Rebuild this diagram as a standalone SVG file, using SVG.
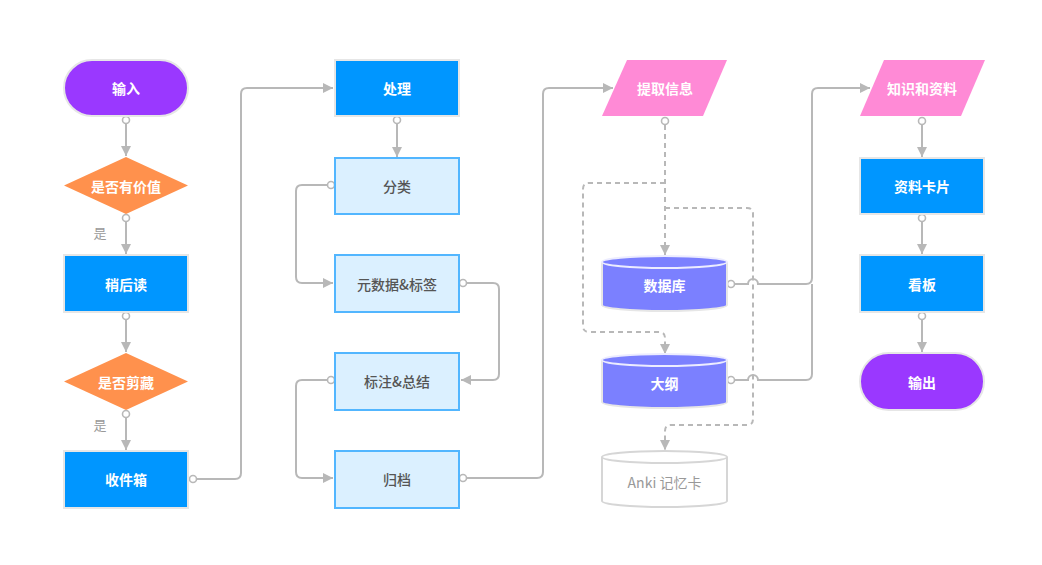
<svg xmlns="http://www.w3.org/2000/svg" width="1042" height="565" viewBox="0 0 1042 565">
<style>
text{font-family:"Noto Sans CJK SC","Liberation Sans",sans-serif;font-size:14px;text-anchor:middle;dominant-baseline:central}
.w{fill:#fff;font-weight:bold}
.d{fill:#555;font-weight:500}
.lbl{fill:#999;font-size:13px}
.purple{fill:#9a38ff;stroke:#e6e6e6;stroke-width:2}
.blue{fill:#0096ff;stroke:#e6e6e6;stroke-width:2}
.lb{fill:#dbf0ff;stroke:#52b6ff;stroke-width:2}
.orange{fill:#ff914d}
.pink{fill:#ff8ad6}
.cyl{fill:#7b80ff;stroke:#e6e6e6;stroke-width:2}
.cyltop{fill:#7b80ff;stroke:#ececff;stroke-width:2}
.anki{fill:#fff;stroke:#d6d6d6;stroke-width:2}
.c{fill:none;stroke:#b8b8b8;stroke-width:2}
.dash{stroke-dasharray:5,4}
.dot{fill:#fff;stroke:#b8b8b8;stroke-width:1.6}
</style>
<defs>
<marker id="ar" viewBox="0 0 10 10" refX="10" refY="5" markerWidth="10" markerHeight="10" markerUnits="userSpaceOnUse" orient="auto">
<path d="M0,0 L10,5 L0,10 z" fill="#b8b8b8"/>
</marker>
</defs>
<rect width="1042" height="565" fill="#fff"/>

<g id="connectors">
<path class="c" d="M126,124 V156" marker-end="url(#ar)"/>
<path class="c" d="M126,222 V254" marker-end="url(#ar)"/>
<path class="c" d="M126,320 V352" marker-end="url(#ar)"/>
<path class="c" d="M126,418 V450" marker-end="url(#ar)"/>
<path class="c" d="M197,479 H235 Q241,479 241,473 V94 Q241,88 247,88 H333" marker-end="url(#ar)"/>
<path class="c" d="M397,124 V157" marker-end="url(#ar)"/>
<path class="c" d="M327,185 H302 Q296,185 296,191 V277 Q296,283 302,283 H333" marker-end="url(#ar)"/>
<path class="c" d="M467,283 H493 Q499,283 499,289 V374 Q499,380 493,380 H461" marker-end="url(#ar)"/>
<path class="c" d="M327,380 H302 Q296,380 296,386 V472 Q296,478 302,478 H333" marker-end="url(#ar)"/>
<path class="c" d="M467,478 H537 Q543,478 543,472 V94 Q543,88 549,88 H613" marker-end="url(#ar)"/>
<path class="c dash" d="M665,125 V255" marker-end="url(#ar)"/>
<path class="c dash" d="M665,183 H589 Q583,183 583,189 V326 Q583,332 589,332 H659 Q665,332 665,338 V354" marker-end="url(#ar)"/>
<path class="c dash" d="M665,208 H747 Q753,208 753,214 V419 Q753,425 747,425 H671 Q665,425 665,431 V450" marker-end="url(#ar)"/>
<path class="c" d="M735,284 H748 A5,5 0 0 1 758,284 H806 Q812,284 812,278 V94 Q812,88 818,88 H870" marker-end="url(#ar)"/>
<path class="c" d="M735,380 H748 A5,5 0 0 1 758,380 H806 Q812,380 812,374 V284"/>
<path class="c" d="M922,125 V157" marker-end="url(#ar)"/>
<path class="c" d="M922,222 V254" marker-end="url(#ar)"/>
<path class="c" d="M922,320 V352" marker-end="url(#ar)"/>
<circle class="dot" cx="126" cy="120" r="3.5"/>
<circle class="dot" cx="126" cy="218" r="3.5"/>
<circle class="dot" cx="126" cy="316" r="3.5"/>
<circle class="dot" cx="126" cy="414" r="3.5"/>
<circle class="dot" cx="193" cy="479" r="3.5"/>
<circle class="dot" cx="397" cy="120" r="3.5"/>
<circle class="dot" cx="331" cy="185" r="3.5"/>
<circle class="dot" cx="463" cy="283" r="3.5"/>
<circle class="dot" cx="331" cy="380" r="3.5"/>
<circle class="dot" cx="463" cy="478" r="3.5"/>
<circle class="dot" cx="665" cy="121" r="3.5"/>
<circle class="dot" cx="731" cy="284" r="3.5"/>
<circle class="dot" cx="731" cy="380" r="3.5"/>
<circle class="dot" cx="922" cy="121" r="3.5"/>
<circle class="dot" cx="922" cy="218" r="3.5"/>
<circle class="dot" cx="922" cy="316" r="3.5"/>
<text class="lbl" x="100" y="232">是</text>
<text class="lbl" x="100" y="424">是</text>
</g>

<g id="n-input"><rect class="purple" x="64" y="60" width="124" height="56" rx="28"/><text class="w" x="126" y="88">输入</text></g>
<g id="n-valuable"><polygon class="orange" points="126,157 188,185.5 126,214 64,185.5"/><text class="w" x="126" y="185.5">是否有价值</text></g>
<g id="n-later"><rect class="blue" x="64" y="255" width="124" height="57"/><text class="w" x="126" y="283.5">稍后读</text></g>
<g id="n-clip"><polygon class="orange" points="126,353 188,381.5 126,410 64,381.5"/><text class="w" x="126" y="381.5">是否剪藏</text></g>
<g id="n-inbox"><rect class="blue" x="64" y="451" width="124" height="57"/><text class="w" x="126" y="479">收件箱</text></g>

<g id="n-process"><rect class="blue" x="335" y="60" width="124" height="56"/><text class="w" x="397" y="88">处理</text></g>
<g id="n-classify"><rect class="lb" x="335" y="158" width="124" height="56"/><text class="d" x="397" y="186">分类</text></g>
<g id="n-meta"><rect class="lb" x="335" y="255" width="124" height="57"/><text class="d" x="397" y="283.5">元数据&amp;标签</text></g>
<g id="n-annotate"><rect class="lb" x="335" y="353" width="124" height="57"/><text class="d" x="397" y="381">标注&amp;总结</text></g>
<g id="n-archive"><rect class="lb" x="335" y="451" width="124" height="57"/><text class="d" x="397" y="479">归档</text></g>

<g id="n-extract"><polygon class="pink" points="627,60 727,60 703,116 602,116"/><text class="w" x="665" y="88">提取信息</text></g>
<g id="n-db"><path class="cyl" d="M602,262 V305 A62.5,6 0 0 0 727,305 V262"/><ellipse class="cyltop" cx="664.5" cy="262" rx="62.5" ry="6"/><text class="w" x="664.5" y="285">数据库</text></g>
<g id="n-outline"><path class="cyl" d="M602,360 V402 A62.5,6 0 0 0 727,402 V360"/><ellipse class="cyltop" cx="664.5" cy="360" rx="62.5" ry="6"/><text class="w" x="664.5" y="383">大纲</text></g>
<g id="n-anki"><path class="anki" d="M602,457 V501 A62.5,6 0 0 0 727,501 V457"/><ellipse class="anki" cx="664.5" cy="457" rx="62.5" ry="6"/><text x="664.5" y="482" fill="#999">Anki 记忆卡</text></g>

<g id="n-knowledge"><polygon class="pink" points="884,60 985,60 961,116 860,116"/><text class="w" x="922" y="88">知识和资料</text></g>
<g id="n-cards"><rect class="blue" x="860" y="158" width="124" height="56"/><text class="w" x="922" y="186">资料卡片</text></g>
<g id="n-board"><rect class="blue" x="860" y="255" width="124" height="57"/><text class="w" x="922" y="283.5">看板</text></g>
<g id="n-output"><rect class="purple" x="860" y="353" width="124" height="57" rx="28.5"/><text class="w" x="922" y="381.5">输出</text></g>
</svg>
